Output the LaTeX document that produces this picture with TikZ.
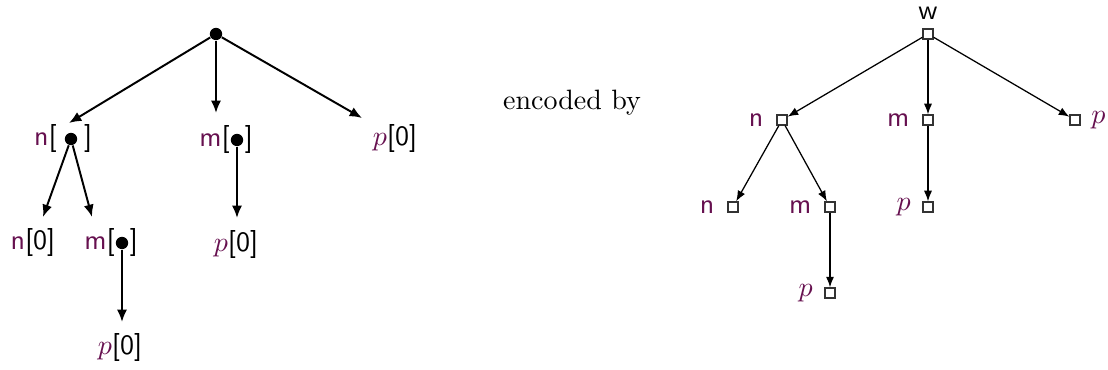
\documentclass[tikz,border=0pt]{standalone}
\usepackage{tikz}
\usetikzlibrary{positioning, arrows.meta}
\definecolor{plum}{HTML}{66104F}
\tikzset{
  dot/.style={circle, fill=black, inner sep=0pt, minimum size=4.4pt},
  box/.style={rectangle, draw=black!80, fill=white, inner sep=0pt, minimum size=3.6pt, line width=0.4pt},
  lab/.style={inner sep=0pt, font=\sffamily},
  tag/.style={inner sep=0pt, font=\sffamily},
  arr/.style={-{Latex[length=4.4pt, width=3.6pt]}, line width=0.7pt},
  arrs/.style={-{Latex[length=3.8pt, width=2.9pt]}, line width=0.45pt},
}
\newcommand{\nm}[1]{\textcolor{plum}{\textsf{#1}}}
\newcommand{\pv}{\textcolor{plum}{$p$}}

\begin{document}
\begin{tikzpicture}[x=0.3571pt, y=-0.3571pt]
    \useasboundingbox (0,0) rectangle (1108,370);
    % left tree
    \node[dot] (r0) at (216,34)  {};
    \node[dot] (a1) at (71,139)  {};
    \node[dot] (a2) at (237,140) {};
    \node[dot] (a3) at (122,243) {};
    \node[lab, left=2.5pt of a1]  {\nm{n}[};
    \node[lab, right=2.1pt of a1] {]};
    \node[lab, left=0pt of a2]    {\nm{m}[};
    \node[lab, right=0.2pt of a2] {]};
    \node[lab, left=0pt of a3]    {\nm{m}[};
    \node[lab, right=0.2pt of a3] {]};
    \node[lab] (l1) at (395,139) {\pv{}[0]};
    \node[lab] (l2) at (33,243)  {\nm{n}[0]};
    \node[lab] (l3) at (236,245) {\pv{}[0]};
    \node[lab] (l4) at (120,348) {\pv{}[0]};
    \coordinate (t1) at (69,123);
    \coordinate (t2) at (216,113);
    \coordinate (t3) at (362,118);
    \coordinate (t4) at (43,217);
    \coordinate (t5) at (92,217);
    \coordinate (t6) at (237,218);
    \coordinate (t7) at (122,322);

    \draw[arr] (r0) -- (t1);
    \draw[arr] (r0) -- (t2);
    \draw[arr] (r0) -- (t3);
    \draw[arr] (a1) -- (t4);
    \draw[arr] (a1) -- (t5);
    \draw[arr] (a2) -- (t6);
    \draw[arr] (a3) -- (t7);

    \node at (572,103) {encoded by};

    % right tree
    \node[box, label={[tag, label distance=3pt]above:w}]           (s0) at (928,34)  {};
    \node[box, label={[tag, label distance=4.5pt]left:\nm{n}}]     (s1) at (782,120) {};
    \node[box, label={[tag, label distance=4.5pt]left:\nm{m}}]     (s2) at (928,120) {};
    \node[box, label={[tag, label distance=3.6pt]right:\pv}]       (s3) at (1075,120) {};
    \node[box, label={[tag, label distance=4.5pt]left:\nm{n}}]     (s4) at (733,207) {};
    \node[box, label={[tag, label distance=4.5pt]left:\nm{m}}]     (s5) at (830,207) {};
    \node[box, label={[tag, label distance=4pt]left:\pv}]          (s6) at (928,207) {};
    \node[box, label={[tag, label distance=4pt]left:\pv}]          (s7) at (830,293) {};

    \draw[arrs] (s0) -- (s1);
    \draw[arrs] (s0) -- (s2);
    \draw[arrs] (s0) -- (s3);
    \draw[arrs] (s1) -- (s4);
    \draw[arrs] (s1) -- (s5);
    \draw[arrs] (s2) -- (s6);
    \draw[arrs] (s5) -- (s7);
\end{tikzpicture}
\end{document}
